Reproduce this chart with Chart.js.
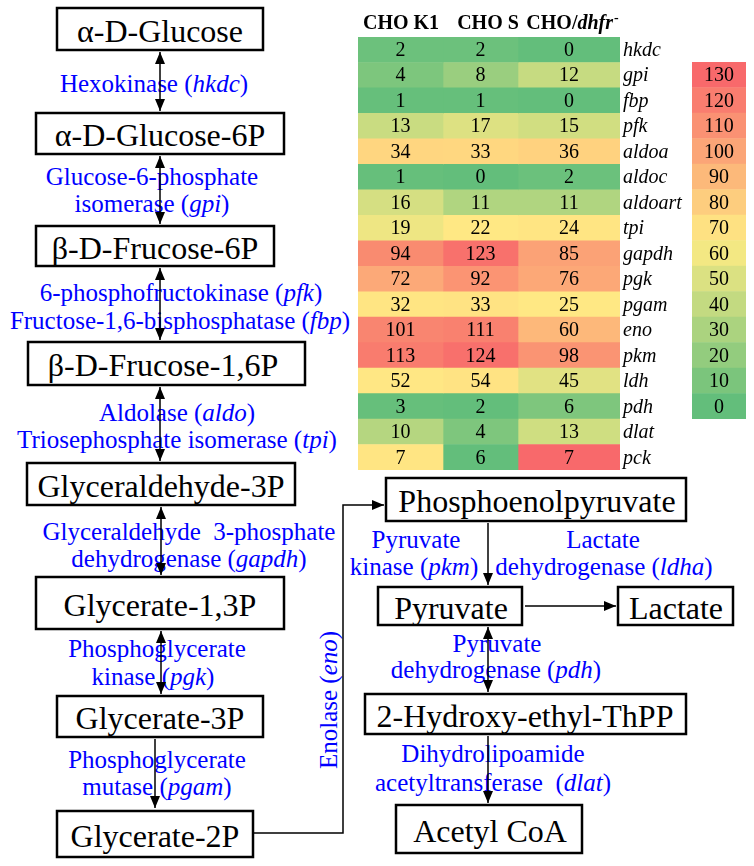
<!DOCTYPE html>
<html>
<head>
<meta charset="utf-8">
<script src="https://cdn.jsdelivr.net/npm/chart.js@4"></script>
<style>
  html, body { margin: 0; padding: 0; background: #fff; }
  #page { position: relative; width: 754px; height: 866px; overflow: hidden; }
  #page svg, #page canvas { position: absolute; }
  svg text { font-family: "Liberation Serif", "Times New Roman", serif; }
  .node { font-size: 32px; fill: #000; }
  .enz { font-size: 25px; fill: #0000ff; white-space: pre; }
  .box { fill: none; stroke: #000; stroke-width: 2.5; }
  .arr { stroke: #000; stroke-width: 1.5; fill: none; }
</style>
</head>
<body>
<div id="page">
  <!-- pathway diagram -->
  <svg width="754" height="866" style="left:0;top:0">
    <defs>
      <marker id="head" markerUnits="userSpaceOnUse" markerWidth="12" markerHeight="10" refX="12" refY="5" orient="auto-start-reverse">
        <path d="M0,0 L12,5 L0,10 z" fill="#000"/>
      </marker>
    </defs>

    <!-- left column boxes -->
    <rect class="box" x="57" y="8" width="206" height="42"/>
    <text class="node" x="160" y="31" text-anchor="middle" dominant-baseline="central">α-D-Glucose</text>
    <rect class="box" x="36" y="113" width="248" height="41"/>
    <text class="node" x="160" y="135" text-anchor="middle" dominant-baseline="central">α-D-Glucose-6P</text>
    <rect class="box" x="36" y="226" width="238" height="40"/>
    <text class="node" x="155" y="248" text-anchor="middle" dominant-baseline="central">β-D-Frucose-6P</text>
    <rect class="box" x="28" y="342" width="277" height="43"/>
    <text class="node" x="163" y="365" text-anchor="middle" dominant-baseline="central">β-D-Frucose-1,6P</text>
    <rect class="box" x="27" y="463" width="268" height="42"/>
    <text class="node" x="161" y="486" text-anchor="middle" dominant-baseline="central">Glyceraldehyde-3P</text>
    <rect class="box" x="36" y="577" width="248" height="52"/>
    <text class="node" x="160" y="605" text-anchor="middle" dominant-baseline="central">Glycerate-1,3P</text>
    <rect class="box" x="57" y="696" width="206" height="41"/>
    <text class="node" x="160" y="718" text-anchor="middle" dominant-baseline="central">Glycerate-3P</text>
    <rect class="box" x="57" y="811" width="196" height="46"/>
    <text class="node" x="155" y="836" text-anchor="middle" dominant-baseline="central">Glycerate-2P</text>

    <!-- right column boxes -->
    <rect class="box" x="386" y="478" width="300" height="43"/>
    <text class="node" x="537" y="501" text-anchor="middle" dominant-baseline="central">Phosphoenolpyruvate</text>
    <rect class="box" x="378" y="587" width="144" height="38"/>
    <text class="node" x="451" y="608" text-anchor="middle" dominant-baseline="central">Pyruvate</text>
    <rect class="box" x="618" y="587" width="115" height="38"/>
    <text class="node" x="676" y="608" text-anchor="middle" dominant-baseline="central">Lactate</text>
    <rect class="box" x="365" y="694" width="321" height="40"/>
    <text class="node" x="525" y="716" text-anchor="middle" dominant-baseline="central">2-Hydroxy-ethyl-ThPP</text>
    <rect class="box" x="396" y="805" width="186" height="48"/>
    <text class="node" x="490" y="831" text-anchor="middle" dominant-baseline="central">Acetyl CoA</text>

    <!-- enzyme labels -->
    <text class="enz" x="154" y="83" text-anchor="middle" dominant-baseline="central">Hexokinase (<tspan font-style="italic">hkdc</tspan>)</text>
    <text class="enz" x="152" y="176" text-anchor="middle" dominant-baseline="central">Glucose-6-phosphate</text>
    <text class="enz" x="152" y="203" text-anchor="middle" dominant-baseline="central">isomerase (<tspan font-style="italic">gpi</tspan>)</text>
    <text class="enz" x="181" y="292" text-anchor="middle" dominant-baseline="central">6-phosphofructokinase (<tspan font-style="italic">pfk</tspan>)</text>
    <text class="enz" x="180" y="320" text-anchor="middle" dominant-baseline="central">Fructose-1,6-bisphosphatase (<tspan font-style="italic">fbp</tspan>)</text>
    <text class="enz" x="177" y="412" text-anchor="middle" dominant-baseline="central">Aldolase (<tspan font-style="italic">aldo</tspan>)</text>
    <text class="enz" x="177" y="439" text-anchor="middle" dominant-baseline="central">Triosephosphate isomerase (<tspan font-style="italic">tpi</tspan>)</text>
    <text class="enz" x="189" y="531" text-anchor="middle" dominant-baseline="central">Glyceraldehyde  3-phosphate</text>
    <text class="enz" x="189" y="558" text-anchor="middle" dominant-baseline="central">dehydrogenase (<tspan font-style="italic">gapdh</tspan>)</text>
    <text class="enz" x="157" y="648" text-anchor="middle" dominant-baseline="central">Phosphoglycerate</text>
    <text class="enz" x="153" y="676" text-anchor="middle" dominant-baseline="central">kinase (<tspan font-style="italic">pgk</tspan>)</text>
    <text class="enz" x="157" y="759" text-anchor="middle" dominant-baseline="central">Phosphoglycerate</text>
    <text class="enz" x="157" y="786" text-anchor="middle" dominant-baseline="central">mutase (<tspan font-style="italic">pgam</tspan>)</text>
    <text class="enz" x="328" y="700" text-anchor="middle" dominant-baseline="central" transform="rotate(-90 328 700)">Enolase (<tspan font-style="italic">eno</tspan>)</text>
    <text class="enz" x="416" y="539" text-anchor="middle" dominant-baseline="central">Pyruvate</text>
    <text class="enz" x="414" y="566" text-anchor="middle" dominant-baseline="central">kinase (<tspan font-style="italic">pkm</tspan>)</text>
    <text class="enz" x="603" y="539" text-anchor="middle" dominant-baseline="central">Lactate</text>
    <text class="enz" x="604" y="566" text-anchor="middle" dominant-baseline="central">dehydrogenase (<tspan font-style="italic">ldha</tspan>)</text>
    <text class="enz" x="497" y="643" text-anchor="middle" dominant-baseline="central">Pyruvate</text>
    <text class="enz" x="496" y="669" text-anchor="middle" dominant-baseline="central">dehydrogenase (<tspan font-style="italic">pdh</tspan>)</text>
    <text class="enz" x="493" y="753" text-anchor="middle" dominant-baseline="central">Dihydrolipoamide</text>
    <text class="enz" x="493" y="782" text-anchor="middle" dominant-baseline="central">acetyltransferase  (<tspan font-style="italic">dlat</tspan>)</text>

    <!-- arrows (drawn over the labels, like the original) -->
    <line class="arr" x1="160" y1="52" x2="160" y2="111" marker-start="url(#head)" marker-end="url(#head)"/>
    <line class="arr" x1="160" y1="156" x2="160" y2="224" marker-start="url(#head)" marker-end="url(#head)"/>
    <line class="arr" x1="160" y1="268" x2="160" y2="340" marker-start="url(#head)" marker-end="url(#head)"/>
    <line class="arr" x1="160" y1="387" x2="160" y2="461" marker-start="url(#head)" marker-end="url(#head)"/>
    <line class="arr" x1="161" y1="507" x2="161" y2="575" marker-start="url(#head)" marker-end="url(#head)"/>
    <line class="arr" x1="161" y1="631" x2="161" y2="694" marker-start="url(#head)" marker-end="url(#head)"/>
    <line class="arr" x1="155" y1="739" x2="155" y2="808" marker-end="url(#head)"/>
    <polyline class="arr" points="254,833 343,833 343,505 384,505" marker-end="url(#head)"/>
    <line class="arr" x1="488" y1="523" x2="488" y2="585" marker-end="url(#head)"/>
    <line class="arr" x1="525" y1="606" x2="616" y2="606" marker-end="url(#head)"/>
    <line class="arr" x1="488" y1="627" x2="488" y2="692" marker-start="url(#head)" marker-end="url(#head)"/>
    <line class="arr" x1="488" y1="736" x2="488" y2="803" marker-end="url(#head)"/>
  </svg>

  <canvas id="heatmap" width="754" height="866" style="left:0;top:0"></canvas>
  <canvas id="colorbar" width="54" height="357" style="left:692px;top:62px"></canvas>
</div>

<script>
// --- data ---
const genes = ['hkdc', 'gpi', 'fbp', 'pfk', 'aldoa', 'aldoc', 'aldoart', 'tpi', 'gapdh',
               'pgk', 'pgam', 'eno', 'pkm', 'ldh', 'pdh', 'dlat', 'pck'];
const cellLines = ['CHO K1', 'CHO S', 'CHO/dhfr-'];
const choK1   = [2, 4, 1, 13, 34, 1, 16, 19, 94, 72, 32, 101, 113, 52, 3, 10, 7];
const choS    = [2, 8, 1, 17, 33, 0, 11, 22, 123, 92, 33, 111, 124, 54, 2, 4, 6];
const choDhfr = [0, 12, 0, 15, 36, 2, 11, 24, 85, 76, 25, 60, 98, 45, 6, 13, 7];
const scaleTicks = [130, 120, 110, 100, 90, 80, 70, 60, 50, 40, 30, 20, 10, 0];

// --- layout / style ---
const FONT = '"Liberation Serif", "Times New Roman", serif';
const colEdges = [0, 85, 160, 262];          // column widths of the table, in px units of the x scale
const headerX = [401, 488, 572];

// cell colours as they appear in the figure (not a strict function of the value)
const cellColors = [
  ['#6cc17c', '#7dc67d', '#66bf7b', '#c9dc81', '#ffd680', '#66bf7b', '#d5df82', '#eee683', '#f98b70',
   '#fca978', '#ffe583', '#f98570', '#f97c6e', '#ffe784', '#66bf7b', '#b5d680', '#ffe583'],
  ['#6cc17c', '#9ace7f', '#66bf7b', '#dde182', '#ffd780', '#63be7b', '#b0d580', '#ffe884', '#f8716c',
   '#fb9473', '#ffe383', '#f9816f', '#f8706c', '#ffe383', '#63be7b', '#7ec67d', '#63be7b'],
  ['#63be7b', '#c6db81', '#63be7b', '#d1de81', '#ffd27f', '#6bc17c', '#b0d580', '#ffe583', '#fba276',
   '#fca877', '#ffe884', '#fdb87a', '#fa9473', '#e1e283', '#7ec67d', '#cfde81', '#f8696b']
];

function mix(a, b, t) {
  const pa = [1, 3, 5].map(i => parseInt(a.substr(i, 2), 16));
  const pb = [1, 3, 5].map(i => parseInt(b.substr(i, 2), 16));
  return 'rgb(' + pa.map((v, i) => Math.round(v + (pb[i] - v) * t)).join(',') + ')';
}
// green - yellow - red scale of the legend, yellow at the middle (65)
function scaleColor(v) {
  return v < 65 ? mix('#63be7b', '#ffeb84', v / 65) : mix('#ffeb84', '#f8696b', (v - 65) / 65);
}

// --- heatmap texts: values, gene names, header ---
const tablePlugin = {
  id: 'tableText',
  afterDatasetsDraw(chart) {
    const ctx = chart.ctx;
    const area = chart.chartArea;
    const yScale = chart.scales.y;
    ctx.save();
    ctx.fillStyle = '#000';
    ctx.textBaseline = 'middle';

    // values inside the cells
    ctx.font = '20px ' + FONT;
    ctx.textAlign = 'center';
    chart.data.datasets.forEach((ds, j) => {
      chart.getDatasetMeta(j).data.forEach((bar, i) => {
        ctx.fillText(String(ds.values[i]), (bar.x + bar.base) / 2, bar.y + 1);
      });
    });

    // gene names on the right
    ctx.font = 'italic 20px ' + FONT;
    ctx.textAlign = 'left';
    genes.forEach((g, i) => ctx.fillText(g, area.right + 3, yScale.getPixelForValue(i) + 1));

    // column headers
    ctx.textBaseline = 'alphabetic';
    const hy = 29;
    ctx.font = 'bold 20px ' + FONT;
    ctx.textAlign = 'center';
    ctx.fillText(cellLines[0], headerX[0], hy);
    ctx.fillText(cellLines[1], headerX[1], hy);
    // CHO/dhfr- : italic gene name and superscript minus
    ctx.textAlign = 'left';
    const p1 = 'CHO/', p2 = 'dhfr', p3 = '-';
    const w1 = ctx.measureText(p1).width;
    ctx.font = 'bold italic 20px ' + FONT;
    const w2 = ctx.measureText(p2).width;
    ctx.font = 'bold 14px ' + FONT;
    const w3 = ctx.measureText(p3).width;
    let x = headerX[2] - (w1 + w2 + w3) / 2;
    ctx.font = 'bold 20px ' + FONT;
    ctx.fillText(p1, x, hy);
    x += w1;
    ctx.font = 'bold italic 20px ' + FONT;
    ctx.fillText(p2, x, hy);
    x += w2;
    ctx.font = 'bold 14px ' + FONT;
    ctx.fillText(p3, x + 1, hy - 7);
    ctx.restore();
  }
};

const series = [choK1, choS, choDhfr];

new Chart(document.getElementById('heatmap'), {
  type: 'bar',
  data: {
    labels: genes,
    datasets: series.map((vals, j) => ({
      label: cellLines[j],
      data: genes.map(() => [colEdges[j], colEdges[j + 1]]),
      values: vals,
      backgroundColor: cellColors[j],
      borderWidth: 0,
      grouped: false,
      barPercentage: 1,
      categoryPercentage: 1
    }))
  },
  options: {
    indexAxis: 'y',
    responsive: false,
    animation: false,
    layout: { padding: { left: 358, right: 134, top: 37, bottom: 396 } },
    plugins: { legend: { display: false }, tooltip: { enabled: false } },
    scales: {
      x: { type: 'linear', min: colEdges[0], max: colEdges[3], display: false },
      y: { display: false }
    }
  },
  plugins: [tablePlugin]
});

// --- colour legend ---
const legendPlugin = {
  id: 'legendText',
  afterDatasetsDraw(chart) {
    const ctx = chart.ctx;
    ctx.save();
    ctx.fillStyle = '#000';
    ctx.font = '20px ' + FONT;
    ctx.textAlign = 'center';
    ctx.textBaseline = 'middle';
    chart.getDatasetMeta(0).data.forEach((bar, i) => {
      ctx.fillText(String(scaleTicks[i]), (bar.x + bar.base) / 2, bar.y + 1);
    });
    ctx.restore();
  }
};

new Chart(document.getElementById('colorbar'), {
  type: 'bar',
  data: {
    labels: scaleTicks.map(String),
    datasets: [{
      data: scaleTicks.map(() => [0, 1]),
      backgroundColor: scaleTicks.map(scaleColor),
      borderWidth: 0,
      barPercentage: 1,
      categoryPercentage: 1
    }]
  },
  options: {
    indexAxis: 'y',
    responsive: false,
    animation: false,
    layout: { padding: 0 },
    plugins: { legend: { display: false }, tooltip: { enabled: false } },
    scales: {
      x: { type: 'linear', min: 0, max: 1, display: false },
      y: { display: false }
    }
  },
  plugins: [legendPlugin]
});
</script>
</body>
</html>
